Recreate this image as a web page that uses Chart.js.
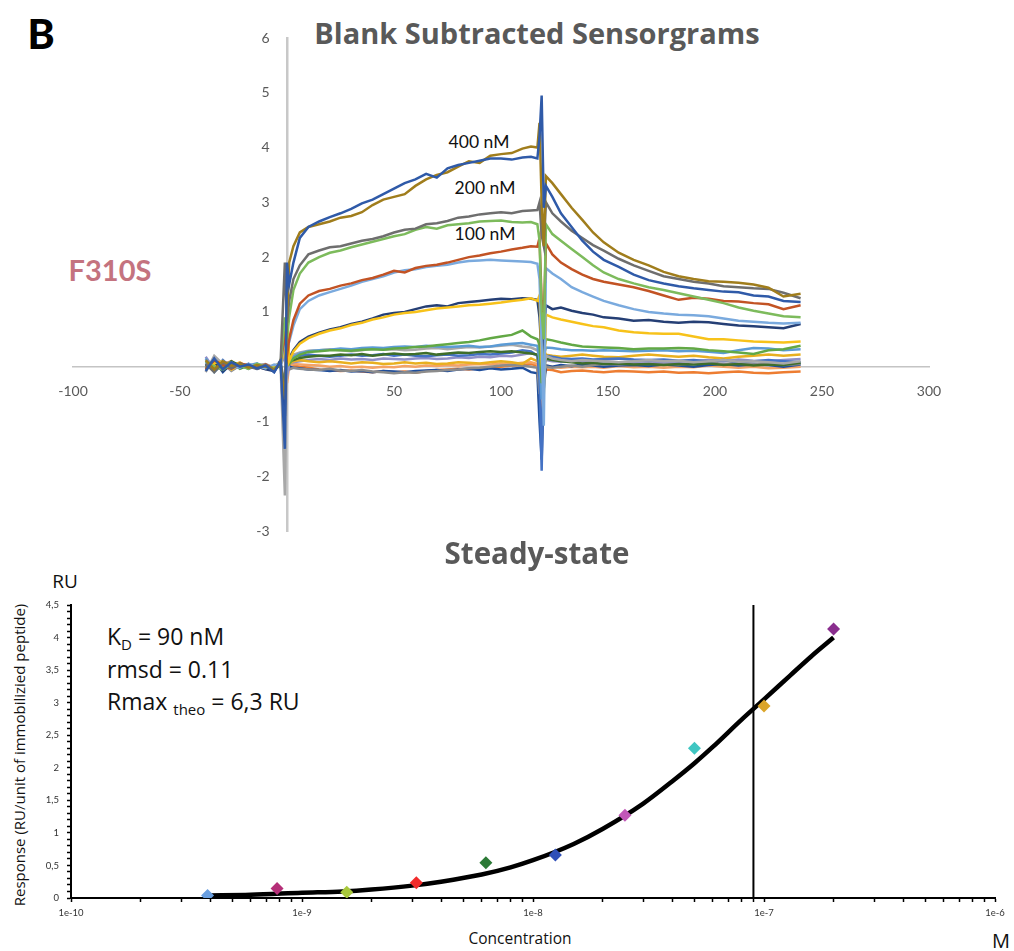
<!DOCTYPE html>
<html>
<head>
<meta charset="utf-8">
<title>F310S sensorgrams</title>
<script src="https://cdn.jsdelivr.net/npm/chart.js@4.4.0/dist/chart.umd.min.js"></script>
<style>
  body { margin: 0; background: #fff; width: 1014px; height: 951px; position: relative; overflow: hidden; font-family: Lato, "Open Sans", sans-serif; }
  .txt { position: absolute; white-space: nowrap; line-height: 1; }
  .mid { transform: translate(-50%, -50%); }
  .row { position: absolute; left: 107px; white-space: nowrap; line-height: 1; font-family: "Open Sans", sans-serif; font-size: 23px; color: #111; transform: translateY(-50%); }
  .row sub { font-size: 15px; vertical-align: -5px; line-height: 0; }
  .box { position: absolute; left: 0; width: 1014px; }
</style>
</head>
<body>

<div class="txt mid" style="left:41px;top:33px;font-size:41px;font-weight:900;color:#000">B</div>
<div class="txt mid" style="left:537px;top:32px;font-size:29px;font-weight:700;color:#595959;font-family:'Open Sans',sans-serif">Blank Subtracted Sensorgrams</div>
<div class="txt mid" style="left:110px;top:269px;font-size:29px;font-weight:700;color:#c4737f">F310S</div>
<div class="txt mid" style="left:479px;top:142px;font-size:17.5px;color:#111">400 nM</div>
<div class="txt mid" style="left:485px;top:188px;font-size:17.5px;color:#111">200 nM</div>
<div class="txt mid" style="left:485px;top:234px;font-size:17.5px;color:#111">100 nM</div>

<div class="box" style="top:0;height:548px"><canvas id="topChart"></canvas></div>

<div class="txt mid" style="left:537px;top:553px;font-size:29.5px;font-weight:700;color:#595959;font-family:'Open Sans',sans-serif">Steady-state</div>
<div class="txt mid" style="left:65px;top:581px;font-size:19px;color:#111;font-family:'Open Sans',sans-serif">RU</div>
<div class="txt mid" style="left:1001px;top:941px;font-size:20px;color:#111;font-family:'Open Sans',sans-serif">M</div>
<div class="txt mid" style="left:520px;top:939px;font-size:15.5px;color:#111;font-family:'Open Sans',sans-serif">Concentration</div>
<div class="txt mid" style="left:19px;top:755px;font-size:15px;color:#111;font-family:'Open Sans',sans-serif;transform:translate(-50%,-50%) rotate(-90deg)">Response (RU/unit of immobilizied peptide)</div>
<div class="row" style="top:636px">K<sub>D</sub> = 90 nM</div>
<div class="row" style="top:669px">rmsd = 0.11</div>
<div class="row" style="top:701px">Rmax <sub>theo</sub> = 6,3 RU</div>

<div class="box" style="top:560px;height:391px"><canvas id="bottomChart"></canvas></div>

<script>
// ---- sensorgrams (time in s, response in RU) ----
const time = [-38,-34,-30,-26,-22,-18,-14,-10,-6,-3,-1,
  0,1,3,6,10,15,20,25,30,35,40,45,50,55,60,65,70,75,80,85,90,95,100,105,110,114,117,118,
  119,120,121,124,128,133,138,143,148,155,162,169,176,183,190,197,204,211,218,225,232,240];

const gold400 = [0.12,-0.05,0.1,0.02,0.05,-0.02,0.03,0.0,-0.05,0.05,-0.6,
  0.9,1.9,2.2,2.45,2.55,2.6,2.65,2.72,2.75,2.82,2.95,3.05,3.1,3.15,3.3,3.42,3.5,3.55,3.65,3.75,3.72,3.85,3.88,3.9,3.98,4.02,4.0,4.45,
  3.0,2.2,3.48,3.35,3.15,2.9,2.68,2.45,2.27,2.08,1.95,1.85,1.73,1.65,1.6,1.56,1.55,1.53,1.5,1.44,1.28,1.33];
const blue400 = [-0.08,0.15,-0.05,0.08,0.0,0.04,-0.03,0.02,-0.1,0.1,-1.5,
  1.9,1.5,1.9,2.35,2.55,2.65,2.73,2.8,2.88,2.98,3.05,3.15,3.25,3.35,3.42,3.52,3.45,3.62,3.68,3.72,3.76,3.8,3.8,3.78,3.82,3.83,3.8,4.2,
  4.95,2.9,3.3,3.1,2.8,2.55,2.3,2.1,1.95,1.82,1.68,1.58,1.52,1.47,1.43,1.4,1.37,1.36,1.3,1.28,1.2,1.18];
const gray200 = [0.05,-0.1,0.08,-0.03,0.06,0.0,-0.04,0.03,-0.06,0.08,1.9,
  0.8,1.2,1.6,1.85,2.05,2.12,2.18,2.2,2.25,2.3,2.33,2.38,2.45,2.5,2.52,2.6,2.62,2.66,2.72,2.74,2.78,2.8,2.82,2.8,2.84,2.85,2.86,3.0,
  2.4,2.2,3.0,2.8,2.65,2.48,2.35,2.22,2.12,1.97,1.85,1.75,1.65,1.6,1.55,1.52,1.47,1.45,1.43,1.42,1.35,1.25];
const green200 = [0.1,0.0,-0.06,0.05,0.02,-0.04,0.05,0.0,-0.03,0.04,0.9,
  0.5,0.9,1.4,1.7,1.9,2.0,2.08,2.12,2.18,2.23,2.28,2.33,2.38,2.42,2.5,2.55,2.52,2.58,2.6,2.62,2.65,2.66,2.67,2.64,2.63,2.64,2.6,2.3,
  1.0,0.5,2.6,2.42,2.3,2.15,2.0,1.85,1.72,1.6,1.52,1.45,1.4,1.34,1.28,1.22,1.16,1.08,1.02,0.97,0.92,0.9];
const rust100 = [-0.05,0.12,0.03,-0.04,0.06,0.02,-0.02,0.04,-0.05,0.06,0.6,
  0.2,0.5,0.85,1.15,1.3,1.38,1.42,1.48,1.52,1.58,1.62,1.68,1.75,1.72,1.8,1.84,1.86,1.9,1.95,2.0,2.03,2.07,2.1,2.14,2.17,2.2,2.19,2.35,
  1.2,0.9,2.25,2.05,1.9,1.78,1.68,1.6,1.55,1.5,1.45,1.38,1.3,1.22,1.26,1.24,1.2,1.19,1.16,1.14,1.05,1.12];
const sky100 = [0.08,-0.07,0.1,0.0,-0.02,0.05,0.01,-0.03,0.04,0.02,0.5,
  0.3,0.45,0.75,1.05,1.2,1.3,1.36,1.42,1.48,1.55,1.6,1.65,1.72,1.76,1.78,1.82,1.84,1.86,1.9,1.93,1.94,1.95,1.94,1.93,1.92,1.91,1.88,1.6,
  0.4,-1.08,1.8,1.7,1.6,1.45,1.36,1.28,1.2,1.12,1.05,1.0,0.97,0.95,0.94,0.92,0.88,0.84,0.82,0.8,0.79,0.8];
const navy50 = [0.02,0.1,-0.08,0.05,-0.02,0.03,0.0,-0.05,-0.08,0.12,-0.9,
  0.6,0.15,0.3,0.45,0.55,0.62,0.68,0.72,0.78,0.82,0.88,0.95,0.98,1.0,1.05,1.1,1.12,1.1,1.16,1.18,1.2,1.22,1.24,1.23,1.25,1.24,1.22,0.9,
  0.2,0.6,1.12,1.05,1.08,1.02,0.98,0.95,0.9,0.88,0.84,0.85,0.82,0.8,0.82,0.81,0.78,0.75,0.74,0.72,0.7,0.78];
const yellow50 = [-0.04,0.06,0.1,-0.05,0.03,0.0,0.04,-0.02,0.02,0.05,0.3,
  1.1,0.1,0.28,0.42,0.52,0.6,0.66,0.7,0.76,0.8,0.86,0.9,0.95,0.98,1.0,1.03,1.06,1.08,1.1,1.12,1.13,1.15,1.17,1.2,1.22,1.25,1.2,1.3,
  0.1,-0.5,0.95,0.9,0.86,0.82,0.78,0.74,0.72,0.66,0.63,0.61,0.6,0.6,0.55,0.5,0.5,0.48,0.46,0.45,0.44,0.46];
const green25 = [0.06,-0.05,0.02,0.08,-0.04,0.03,-0.02,0.02,-0.04,0.03,0.6,
  0.2,0.05,0.15,0.22,0.27,0.28,0.3,0.3,0.29,0.31,0.32,0.31,0.33,0.34,0.36,0.37,0.39,0.41,0.43,0.45,0.48,0.52,0.55,0.58,0.66,0.55,0.5,0.4,
  -0.3,0.3,0.5,0.48,0.44,0.4,0.37,0.36,0.35,0.34,0.32,0.33,0.33,0.34,0.33,0.3,0.28,0.26,0.23,0.3,0.32,0.38];
const lowSky = [0.15,-0.1,0.05,0.08,-0.03,0.02,0.06,-0.02,0.0,0.08,-0.7,
  0.4,0.1,0.18,0.24,0.28,0.3,0.31,0.33,0.32,0.34,0.35,0.34,0.36,0.37,0.36,0.38,0.37,0.36,0.37,0.38,0.36,0.37,0.4,0.42,0.43,0.4,0.38,0.1,
  -0.6,0.2,0.35,0.34,0.32,0.3,0.3,0.29,0.3,0.29,0.28,0.29,0.3,0.28,0.29,0.27,0.25,0.3,0.34,0.33,0.3,0.32];
const lowGray = [-0.1,0.2,0.05,-0.06,0.04,-0.02,0.03,0.05,-0.02,0.06,-2.35,
  0.3,0.2,0.22,0.26,0.29,0.3,0.32,0.3,0.28,0.3,0.33,0.31,0.32,0.3,0.31,0.33,0.34,0.32,0.34,0.36,0.35,0.37,0.38,0.4,0.37,0.35,0.3,0.2,
  0.8,-0.3,0.2,0.15,0.12,0.1,0.12,0.11,0.1,0.08,0.1,0.12,0.1,0.11,0.08,0.1,0.12,0.09,0.1,0.08,0.06,0.1];
const lowForest = [0.0,0.08,-0.05,0.1,0.02,-0.03,0.04,-0.01,-0.04,0.02,-0.4,
  0.3,0.1,0.12,0.16,0.18,0.2,0.2,0.22,0.21,0.23,0.2,0.22,0.24,0.22,0.23,0.25,0.22,0.24,0.26,0.25,0.27,0.28,0.27,0.28,0.26,0.24,0.22,0.1,
  -0.2,0.0,0.15,0.12,0.1,0.08,0.06,0.07,0.05,0.06,0.04,0.05,0.03,0.05,0.04,0.06,0.03,0.05,0.02,0.04,0.03,0.07];
const lowBlue = [0.1,-0.06,0.12,-0.02,0.05,0.0,-0.03,0.02,-0.1,0.1,-1.2,
  0.5,0.15,0.18,0.2,0.22,0.2,0.18,0.2,0.22,0.2,0.21,0.23,0.2,0.22,0.2,0.19,0.21,0.22,0.2,0.21,0.23,0.22,0.24,0.26,0.3,0.28,0.2,-0.2,
  -1.9,0.2,0.2,0.18,0.15,0.14,0.15,0.13,0.14,0.15,0.13,0.12,0.13,0.11,0.12,0.1,0.12,0.08,0.1,0.12,0.1,0.08];
const lowOrange = [0.05,-0.08,0.04,0.1,-0.02,0.03,0.0,-0.04,0.02,0.04,-0.5,
  0.3,0.05,0.02,0.0,-0.02,-0.05,-0.06,-0.08,-0.07,-0.09,-0.1,-0.08,-0.1,-0.09,-0.11,-0.08,-0.06,-0.05,-0.04,-0.05,-0.03,-0.02,0.0,0.02,0.03,0.05,0.02,-0.6,
  -1.4,-0.2,-0.05,-0.06,-0.1,-0.08,-0.07,-0.09,-0.1,-0.08,-0.09,-0.1,-0.09,-0.11,-0.1,-0.12,-0.1,-0.09,-0.11,-0.12,-0.1,-0.09];
const lowPeach = [-0.06,0.1,0.0,-0.05,0.06,0.02,0.0,0.03,-0.03,0.02,0.4,
  -0.3,0.0,0.05,0.04,0.03,0.02,0.0,0.01,-0.01,0.0,-0.02,0.0,-0.01,0.01,0.0,0.02,0.01,0.03,0.02,0.04,0.05,0.04,0.06,0.05,0.07,0.08,0.05,-0.8,
  -1.2,0.0,0.02,0.0,-0.02,0.0,-0.01,0.0,-0.02,0.01,-0.01,0.0,-0.02,0.0,-0.01,0.02,0.0,-0.02,0.0,-0.03,-0.02,0.0];
const lowGold = [0.03,0.05,-0.04,0.02,0.08,-0.02,0.03,0.0,-0.02,0.05,0.8,
  0.2,0.05,0.1,0.12,0.1,0.08,0.1,0.08,0.06,0.08,0.07,0.05,0.06,0.08,0.06,0.07,0.05,0.06,0.08,0.07,0.06,0.08,0.1,0.08,0.05,0.15,0.1,0.5,
  -0.4,0.3,0.22,0.2,0.18,0.2,0.22,0.2,0.18,0.17,0.2,0.22,0.2,0.18,0.2,0.17,0.15,0.18,0.2,0.22,0.2,0.22];
const lowSlate = [0.08,0.0,0.06,-0.08,0.02,0.04,-0.02,0.03,-0.05,0.06,-0.3,
  0.2,-0.05,-0.02,-0.04,-0.05,-0.06,-0.04,-0.07,-0.08,-0.06,-0.09,-0.1,-0.12,-0.1,-0.11,-0.09,-0.08,-0.06,-0.05,-0.03,-0.02,0.0,0.02,0.03,0.02,0.0,-0.02,-0.5,
  0.6,-0.1,0.0,-0.02,0.0,0.02,0.0,0.03,0.05,0.04,0.06,0.05,0.07,0.04,0.06,0.08,0.05,0.07,0.04,0.06,0.03,0.05];
const lowLavender = [0.18,-0.05,0.1,0.0,0.04,-0.04,0.02,0.04,-0.02,0.03,0.2,
  -0.2,0.05,0.08,0.1,0.12,0.14,0.12,0.15,0.13,0.14,0.12,0.15,0.14,0.13,0.15,0.16,0.14,0.15,0.17,0.16,0.18,0.17,0.2,0.19,0.22,0.25,0.2,0.0,
  0.5,0.1,0.12,0.1,0.09,0.1,0.08,0.09,0.1,0.08,0.09,0.1,0.08,0.09,0.1,0.12,0.1,0.13,0.11,0.1,0.12,0.14];
const lowNavy = [-0.03,0.12,-0.1,0.06,-0.02,0.05,-0.04,0.01,-0.08,0.1,-1.5,
  1.0,0.0,-0.02,-0.03,-0.05,-0.06,-0.08,-0.06,-0.09,-0.08,-0.1,-0.08,-0.09,-0.1,-0.08,-0.07,-0.06,-0.08,-0.05,-0.04,-0.06,-0.03,-0.05,-0.04,-0.02,-0.1,-0.12,-1.0,
  -1.7,-0.4,0.02,0.0,0.03,0.01,0.04,0.02,0.0,0.02,0.03,0.01,0.04,0.02,0.0,0.03,0.05,0.02,0.04,0.03,0.0,0.04];

const xTickLabels = [-100, -50, 50, 100, 150, 200, 250, 300];
const yTickLabels = [6, 5, 4, 3, 2, 1, -1, -2, -3];

// ---- steady-state ----
const concentrations = [3.9e-10, 7.8e-10, 1.5625e-9, 3.125e-9, 6.25e-9, 1.25e-8, 2.5e-8, 5e-8, 1e-7, 2e-7];
const responses = [0.04, 0.145, 0.09, 0.235, 0.54, 0.66, 1.27, 2.30, 2.95, 4.13];
const pointColors = ['#6a9fe0', '#b52f78', '#a8c83c', '#f22b2b', '#2c7a36', '#2f4fb8', '#c257b8', '#3fc6c2', '#dba52a', '#8a2e8e'];
const fitConc = [3.9e-10, 6e-10, 1e-9, 1.5e-9, 2e-9, 3e-9, 4e-9, 6e-9, 8e-9, 1e-8, 1.5e-8, 2e-8, 3e-8, 4e-8, 5e-8, 6e-8, 8e-8, 1e-7, 1.3e-7, 1.6e-7, 2e-7];
const fitResp = [0.04, 0.05, 0.08, 0.1, 0.13, 0.19, 0.25, 0.36, 0.47, 0.58, 0.83, 1.06, 1.45, 1.79, 2.07, 2.32, 2.74, 3.05, 3.42, 3.71, 4.0];
const kd = 9e-8;
const decades = [1e-10, 1e-9, 1e-8, 1e-7, 1e-6];
const minorSteps = [2, 3, 4, 5, 6, 7, 8, 9];

const toPoints = (values) => time.map((t, i) => ({ x: t, y: values[i] }));

// first entries are drawn on top
const curves = [
  [blue400, '#2f5aa8'], [gold400, '#a07d1c'], [gray200, '#6e6e6e'], [green200, '#7dbb5c'],
  [rust100, '#c25324'], [sky100, '#7aaade'], [yellow50, '#f7c21a'], [navy50, '#253f75'],
  [green25, '#62a845'], [lowSky, '#5b9bd5'], [lowGray, '#a8a8a8'], [lowForest, '#3f6e2a'],
  [lowBlue, '#4472c4'], [lowGold, '#e8b020'], [lowLavender, '#9090c8'], [lowSlate, '#8c8c8c'],
  [lowNavy, '#1f4e9c'], [lowPeach, '#f4a366'], [lowOrange, '#ed7d31']
];

// y labels sit on a centred axis, so pad them with trailing spaces
const gap = '\u2003\u2002';

new Chart(document.getElementById('topChart'), {
  type: 'line',
  data: {
    datasets: curves.map(([vals, color]) => ({
      data: toPoints(vals),
      borderColor: color,
      borderWidth: 2.5,
      pointRadius: 0,
      tension: 0
    }))
  },
  options: {
    responsive: true,
    maintainAspectRatio: false,
    animation: false,
    events: [],
    layout: { padding: { left: 73, right: 85, top: 38, bottom: 17 } },
    plugins: { legend: { display: false }, tooltip: { enabled: false } },
    scales: {
      x: {
        type: 'linear',
        position: { y: 0 },
        min: -100, max: 300,
        grid: { display: false, drawTicks: false },
        border: { color: '#c4c4c4', width: 1.5 },
        afterBuildTicks: (s) => { s.ticks = xTickLabels.map(v => ({ value: v })); },
        ticks: { color: '#595959', font: { family: 'Lato', size: 14 }, padding: 16, maxRotation: 0, autoSkip: false }
      },
      y: {
        type: 'linear',
        position: { x: 0 },
        min: -3, max: 6,
        grid: { display: false, drawTicks: false },
        border: { color: '#c8c8c8', width: 2.5 },
        afterBuildTicks: (s) => { s.ticks = yTickLabels.map(v => ({ value: v })); },
        ticks: { color: '#595959', font: { family: 'Lato', size: 14 }, autoSkip: false, callback: (v) => v + gap }
      }
    }
  }
});

const logTicks = [];
decades.forEach((d, i) => {
  logTicks.push(d);
  if (i < decades.length - 1) minorSteps.forEach(m => logTicks.push(m * d));
});

new Chart(document.getElementById('bottomChart'), {
  type: 'scatter',
  data: {
    datasets: [
      {
        data: concentrations.map((c, i) => ({ x: c, y: responses[i] })),
        pointStyle: 'rectRot',
        pointRadius: 6.5,
        pointBackgroundColor: pointColors,
        pointBorderWidth: 0,
        showLine: false
      },
      {
        data: fitConc.map((c, i) => ({ x: c, y: fitResp[i] })),
        showLine: true,
        borderColor: '#000',
        borderWidth: 4.5,
        pointRadius: 0,
        cubicInterpolationMode: 'monotone'
      },
      {
        data: [{ x: kd, y: 0 }, { x: kd, y: 4.5 }],
        showLine: true,
        borderColor: '#000',
        borderWidth: 2,
        pointRadius: 0
      }
    ]
  },
  options: {
    responsive: true,
    maintainAspectRatio: false,
    animation: false,
    events: [],
    layout: { padding: { left: 0, right: 19, top: 45, bottom: 0 } },
    plugins: { legend: { display: false }, tooltip: { enabled: false } },
    scales: {
      x: {
        type: 'logarithmic',
        min: 1e-10, max: 1e-6,
        afterFit: (s) => { s.height = 53; },
        afterBuildTicks: (s) => { s.ticks = logTicks.map(v => ({ value: v })); },
        grid: { display: true, drawOnChartArea: false, color: '#000', tickLength: 4, tickWidth: 1.5 },
        border: { color: '#000', width: 2 },
        ticks: {
          autoSkip: false, maxRotation: 0, padding: 5,
          color: '#333', font: { family: 'Lato', size: 9.5 },
          callback: (v) => decades.includes(v) ? '1e' + Math.round(Math.log10(v)) : ''
        }
      },
      y: {
        min: 0, max: 4.5,
        afterFit: (s) => { s.width = 71; },
        grid: { display: true, drawOnChartArea: false, color: '#000', tickLength: 4, tickWidth: 1.5 },
        border: { color: '#000', width: 2 },
        ticks: {
          stepSize: 0.1, autoSkip: false, padding: 8,
          color: '#333', font: { family: 'Lato', size: 9.5 },
          callback: (v) => {
            const half = Math.round(v * 2);
            if (Math.abs(v * 2 - half) > 1e-6) return '';
            return String(half / 2).replace('.', ',');
          }
        }
      }
    }
  }
});
</script>
</body>
</html>
